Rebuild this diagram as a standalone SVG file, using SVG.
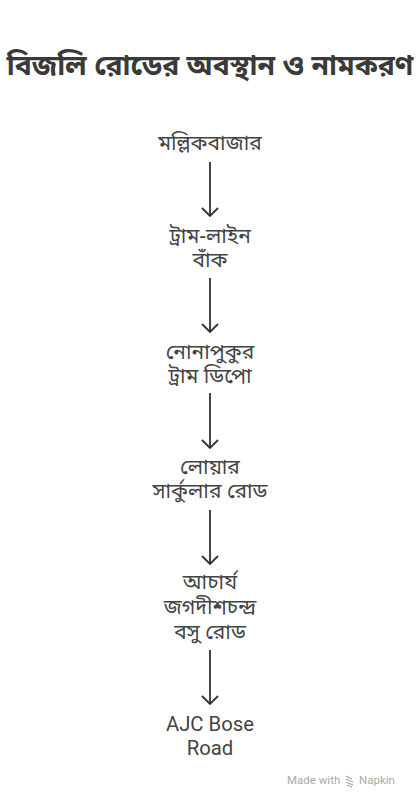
<svg xmlns="http://www.w3.org/2000/svg" width="420" height="808" viewBox="0 0 420 808">
<style>
.t{font-family:"Noto Sans Bengali","Noto Sans","Noto Sans CJK SC",sans-serif;fill:#444;font-size:21px;text-anchor:middle}
.title{font-family:"Noto Sans Bengali","Noto Sans",sans-serif;fill:#3a3a3a;font-size:28.3px;font-weight:bold;text-anchor:middle}
.e{font-family:Roboto,"Liberation Sans",sans-serif;fill:#444;font-size:20.3px;text-anchor:middle}
.c{stroke:#333;stroke-width:1.8;fill:none}
.f{font-family:Roboto,"Liberation Sans",sans-serif;fill:#aaa;font-size:11.5px}
</style>
<rect width="420" height="808" fill="#fff"/>
<text class="title" x="210" y="75">বিজলি রোডের অবস্থান ও নামকরণ</text>
<g id="n1"><text class="t" x="210" y="150">মল্লিকবাজার</text></g>
<g id="n2"><text class="t" x="210" y="243">ট্রাম-লাইন</text><text class="t" x="210" y="267">বাঁক</text></g>
<g id="n3"><text class="t" x="210" y="359">নোনাপুকুর</text><text class="t" x="210" y="383">ট্রাম ডিপো</text></g>
<g id="n4"><text class="t" x="210" y="474">লোয়ার</text><text class="t" x="210" y="498">সার্কুলার রোড</text></g>
<g id="n5"><text class="t" x="210" y="589">আচার্য</text><text class="t" x="210" y="614">জগদীশচন্দ্র</text><text class="t" x="210" y="639">বসু রোড</text></g>
<g id="n6"><text class="e" x="210" y="731">AJC Bose</text><text class="e" x="210" y="755">Road</text></g>
<g id="connectors">
<path class="c" d="M210 162V216M202 208L210 216L218 208"/>
<path class="c" d="M210 278V332M202 324L210 332L218 324"/>
<path class="c" d="M210 393V448M202 440L210 448L218 440"/>
<path class="c" d="M210 510V564M202 556L210 564L218 556"/>
<path class="c" d="M210 650V704M202 696L210 704L218 696"/>
</g>
<g id="footer">
<text class="f" x="287" y="784">Made with</text>
<path d="M346 776l6 3M346 779l7 3M346 782l7 3M347 785l5 2" stroke="#aaa" stroke-width="1.3" fill="none"/>
<text class="f" x="359" y="784">Napkin</text>
</g>
</svg>
